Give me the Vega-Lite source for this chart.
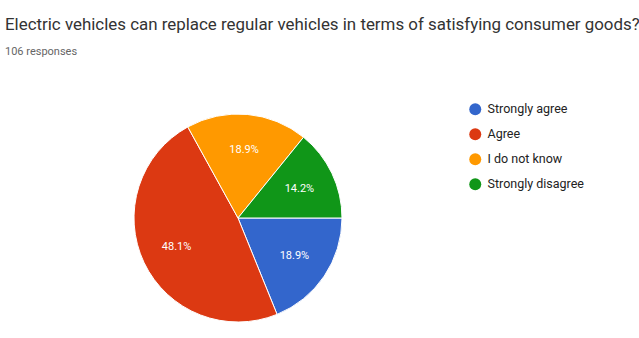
{
  "$schema": "https://vega.github.io/schema/vega-lite/v6.json",
  "autosize": "none",
  "padding": {"left": 135, "top": 115, "right": 298, "bottom": 17},
  "width": 206,
  "height": 206,
  "background": "white",
  "title": {
    "text": "Electric vehicles can replace regular vehicles in terms of satisfying consumer goods?",
    "subtitle": "106 responses",
    "anchor": "start",
    "frame": "bounds",
    "dx": -127,
    "offset": 45,
    "limit": 700,
    "subtitleLimit": 700,
    "font": "Roboto",
    "fontSize": 16.9,
    "fontWeight": "normal",
    "color": "#333333",
    "subtitleFont": "Roboto",
    "subtitleFontSize": 11,
    "subtitleColor": "#666666",
    "subtitlePadding": 12
  },
  "data": {
    "values": [
      {"answer": "Strongly agree", "count": 20, "rank": 1, "label": "18.9%"},
      {"answer": "Agree", "count": 51, "rank": 2, "label": "48.1%"},
      {"answer": "I do not know", "count": 20, "rank": 3, "label": "18.9%"},
      {"answer": "Strongly disagree", "count": 15, "rank": 4, "label": "14.2%"}
    ]
  },
  "encoding": {
    "theta": {"field": "count", "type": "quantitative", "stack": true, "scale": {"range": [1.5708, 7.8540]}},
    "order": {"field": "rank", "type": "quantitative"}
  },
  "layer": [
    {
      "mark": {"type": "arc", "outerRadius": 104, "stroke": "white", "strokeWidth": 1},
      "encoding": {
        "color": {
          "field": "answer",
          "type": "nominal",
          "scale": {
            "domain": ["Strongly agree", "Agree", "I do not know", "Strongly disagree"],
            "range": ["#3366cc", "#dc3912", "#ff9900", "#109618"]
          },
          "legend": {
            "title": null,
            "orient": "none",
            "legendX": 334,
            "legendY": -12,
            "symbolType": "circle",
            "symbolSize": 144,
            "symbolStrokeWidth": 0,
            "labelFont": "Roboto",
            "labelFontSize": 12.5,
            "labelColor": "#222222",
            "labelOffset": 6,
            "rowPadding": 12
          }
        }
      }
    },
    {
      "mark": {"type": "text", "radius": 68, "color": "white", "font": "Roboto", "fontSize": 11},
      "encoding": {
        "text": {"field": "label", "type": "nominal"}
      }
    }
  ]
}
